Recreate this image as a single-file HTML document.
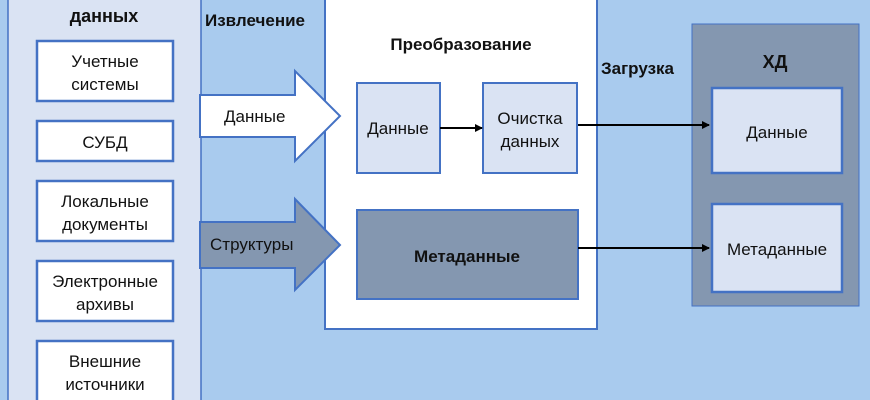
<!DOCTYPE html>
<html><head><meta charset="utf-8"><style>
body{margin:0;width:870px;height:400px;overflow:hidden;background:#a9cbee}
svg{display:block}
text{font-family:"Liberation Sans","DejaVu Sans",sans-serif;fill:#111}
.b{font-weight:bold}
</style></head><body>
<svg width="870" height="400" viewBox="0 0 870 400">
<defs><marker id="ah" markerWidth="8" markerHeight="8" refX="7" refY="4" orient="auto" markerUnits="userSpaceOnUse"><path d="M0,0 L8,4 L0,8 z" fill="#000"/></marker></defs>
<rect x="0" y="0" width="870" height="400" fill="#a9cbee"/>
<rect x="8" y="-5" width="193" height="420" fill="#dae3f3" stroke="#4472c4" stroke-width="1.5"/>
<text x="104" y="22" class="b" font-size="18" text-anchor="middle">данных</text>
<g fill="#fff" stroke="#4472c4" stroke-width="2.5">
<rect x="37" y="41" width="136" height="60"/>
<rect x="37" y="121" width="136" height="40"/>
<rect x="37" y="181" width="136" height="60"/>
<rect x="37" y="261" width="136" height="60"/>
<rect x="37" y="341" width="136" height="65"/>
</g>
<g font-size="17" text-anchor="middle">
<text x="105" y="67">Учетные</text><text x="105" y="90">системы</text>
<text x="105" y="148">СУБД</text>
<text x="105" y="207">Локальные</text><text x="105" y="230">документы</text>
<text x="105" y="287">Электронные</text><text x="105" y="310">архивы</text>
<text x="105" y="367">Внешние</text><text x="105" y="390">источники</text>
</g>
<text x="205" y="26" class="b" font-size="17">Извлечение</text>
<rect x="325" y="-5" width="272" height="334" fill="#fff" stroke="#4472c4" stroke-width="2"/>
<path d="M200,95 L295,95 L295,71 L340,116 L295,161 L295,137 L200,137 z" fill="#fff" stroke="#4472c4" stroke-width="2"/>
<text x="224" y="122" font-size="17">Данные</text>
<path d="M200,222 L295,222 L295,199 L340,245 L295,290 L295,268 L200,268 z" fill="#8497b0" stroke="#4472c4" stroke-width="2"/>
<text x="210" y="250" font-size="17">Структуры</text>
<text x="461" y="50" class="b" font-size="17" text-anchor="middle">Преобразование</text>
<rect x="357" y="83" width="83" height="90" fill="#dae3f3" stroke="#4472c4" stroke-width="2"/>
<text x="398" y="134" font-size="17" text-anchor="middle">Данные</text>
<rect x="483" y="83" width="94" height="90" fill="#dae3f3" stroke="#4472c4" stroke-width="2"/>
<text x="530" y="124" font-size="17" text-anchor="middle">Очистка</text>
<text x="530" y="147" font-size="17" text-anchor="middle">данных</text>
<line x1="440" y1="128" x2="482" y2="128" stroke="#000" stroke-width="2" marker-end="url(#ah)"/>
<rect x="357" y="210" width="221" height="89" fill="#8497b0" stroke="#4472c4" stroke-width="2"/>
<text x="467" y="262" class="b" font-size="17" text-anchor="middle">Метаданные</text>
<text x="601" y="74" class="b" font-size="17">Загрузка</text>
<rect x="692" y="24" width="167" height="282" fill="#8497b0" stroke="#4472c4" stroke-width="1"/>
<text x="775" y="68" class="b" font-size="18" text-anchor="middle">ХД</text>
<rect x="712" y="88" width="130" height="85" fill="#dae3f3" stroke="#4472c4" stroke-width="2.5"/>
<text x="777" y="138" font-size="17" text-anchor="middle">Данные</text>
<rect x="712" y="204" width="130" height="88" fill="#dae3f3" stroke="#4472c4" stroke-width="2.5"/>
<text x="777" y="255" font-size="17" text-anchor="middle">Метаданные</text>
<line x1="578" y1="125" x2="709" y2="125" stroke="#000" stroke-width="2" marker-end="url(#ah)"/>
<line x1="578" y1="248" x2="709" y2="248" stroke="#000" stroke-width="2" marker-end="url(#ah)"/>
</svg>
</body></html>
